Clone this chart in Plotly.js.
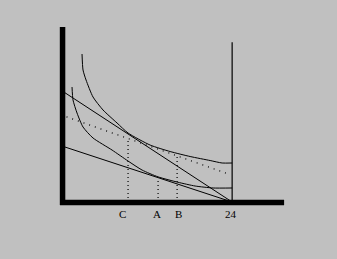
<!DOCTYPE html>
<html>
<head>
<meta charset="utf-8">
<script src="https://cdn.plot.ly/plotly-3.0.1.min.js"></script>
<style>
html,body{margin:0;padding:0;background:#c0c0c0;}
#chart{width:337px;height:259px;}
</style>
</head>
<body>
<div id="chart"></div>
<script>
// Budget lines (leisure hours vs dollars)
const highWageX = [0, 24];
const highWageY = [15.7, 0];
const lowWageX = [0, 24];
const lowWageY = [7.9, 0];
const compX = [0.5, 23.4];
const compY = [12.1, 4.0];

// Indifference curves
const ic2X = [2.70, 2.84, 3.27, 4.26, 5.68, 7.67, 9.23, 12.36, 15.20, 18.04, 20.88, 22.58, 24.0];
const ic2Y = [21.02, 18.75, 17.33, 14.91, 13.07, 11.22, 9.80, 8.09, 7.17, 6.46, 5.89, 5.54, 5.54];
const ic1X = [1.28, 1.42, 1.99, 2.84, 4.26, 6.96, 9.23, 11.22, 13.49, 16.33, 18.75, 21.30, 24.0];
const ic1Y = [16.33, 14.49, 12.64, 10.65, 9.09, 7.38, 5.82, 4.54, 3.57, 2.80, 2.27, 1.99, 1.99];

// Time endowment line
const endowX = [24, 24];
const endowY = [0, 22.7];

// Dotted drop lines: C, A, B
const dropX = [9.23, 13.49, 16.19];
const dropTop = [9.09, 3.12, 6.53];

// Tick labels
const tickLabels = ['C', 'A', 'B', '24'];
const tickPos = [8.48, 13.35, 16.33, 23.86];

const thin = {color: '#000', width: 1};
const traces = [
  {x: highWageX, y: highWageY, mode: 'lines', line: thin},
  {x: lowWageX, y: lowWageY, mode: 'lines', line: thin},
  {x: compX, y: compY, mode: 'lines', line: {color: '#000', width: 1.2, dash: '1px,5px'}},
  {x: ic2X, y: ic2Y, mode: 'lines', line: {color: '#000', width: 1, shape: 'spline', smoothing: 0.6}},
  {x: ic1X, y: ic1Y, mode: 'lines', line: {color: '#000', width: 1, shape: 'spline', smoothing: 0.6}},
  {x: endowX, y: endowY, mode: 'lines', line: {color: '#000', width: 1.2}}
];
dropX.forEach((xv, i) => {
  traces.push({x: [xv, xv], y: [0, dropTop[i]], mode: 'lines',
    line: {color: '#000', width: 1.2, dash: '1px,3px'}});
});

const serif = 'Liberation Serif, Times New Roman, serif';
const annotations = tickLabels.map((t, i) => ({
  x: tickPos[i], xref: 'x', y: -0.068, yref: 'paper',
  text: t, showarrow: false, xanchor: 'center', yanchor: 'middle',
  font: {family: serif, size: 11, color: '#000'}
}));
annotations.push({x: 33.66, xref: 'x', y: -0.097, yref: 'paper', text: 'Leisure',
  showarrow: false, xanchor: 'center', yanchor: 'middle',
  font: {family: serif, size: 12, color: '#000'}});
annotations.push({x: -3.27, xref: 'x', y: 0.949, yref: 'paper', text: '$',
  showarrow: false, xanchor: 'center', yanchor: 'middle',
  font: {family: serif, size: 12, color: '#000'}});

const layout = {
  width: 337, height: 259,
  margin: {l: 63, r: 52, t: 26, b: 57, pad: 0},
  paper_bgcolor: '#c0c0c0', plot_bgcolor: '#c0c0c0',
  showlegend: false,
  xaxis: {range: [0, 31.5], visible: false, fixedrange: true},
  yaxis: {range: [0, 25], visible: false, fixedrange: true},
  shapes: [
    {type: 'line', xref: 'paper', yref: 'paper', x0: -0.002, x1: -0.002, y0: -0.017, y1: 0.994,
      line: {color: '#000', width: 5.5}},
    {type: 'line', xref: 'paper', yref: 'paper', x0: -0.0135, x1: 0.996, y0: -0.003, y1: -0.003,
      line: {color: '#000', width: 5.5}}
  ],
  annotations: annotations
};

Plotly.newPlot('chart', traces, layout, {displayModeBar: false, staticPlot: true});
</script>
</body>
</html>
